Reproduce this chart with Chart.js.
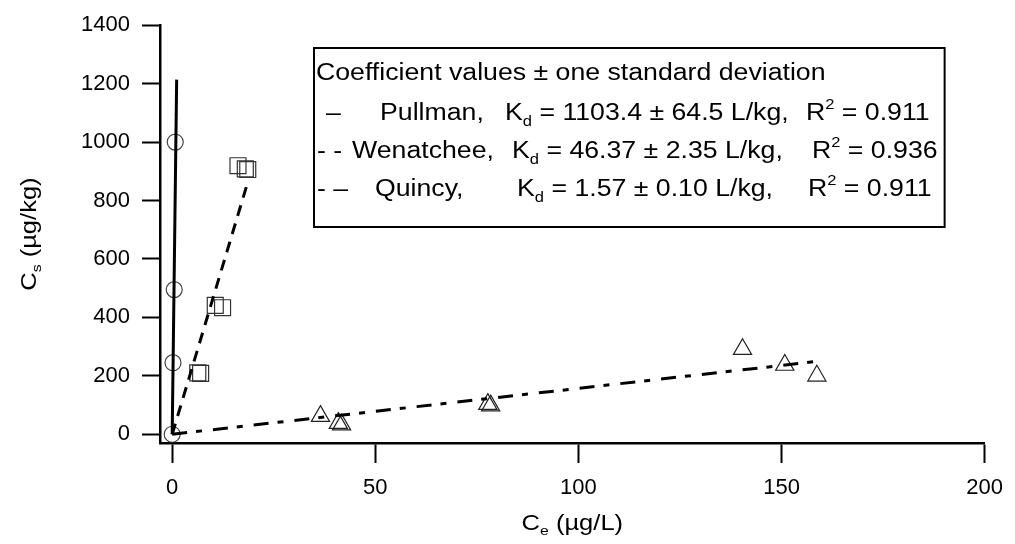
<!DOCTYPE html>
<html>
<head>
<meta charset="utf-8">
<script src="https://cdn.jsdelivr.net/npm/chart.js@4"></script>
<style>
  html, body { margin: 0; padding: 0; background: #fff; }
  canvas { display: block; }
</style>
</head>
<body>
<canvas id="chart" width="1015" height="544"></canvas>
<script>
const xTicks = [0, 50, 100, 150, 200];
const yTicks = [0, 200, 400, 600, 800, 1000, 1200, 1400];

// measured points, Ce (ug/L) vs Cs (ug/kg)
const pullmanX = [0, 0.2, 0.5, 0.75];
const pullmanY = [0, 245, 495, 1000];
const wenatcheeX = [6.3, 7.0, 10.6, 12.4, 16.2, 18.0, 18.6];
const wenatcheeY = [210, 208, 441, 433, 919, 908, 906];
const quincyX = [36.5, 40.9, 41.7, 77.7, 78.4, 140.4, 150.8, 158.7];
const quincyY = [62, 38, 33, 103, 98, 291, 237, 200];

// linear fits Cs = Kd * Ce, drawn from 0 up to fitEnd
const kd = [1103.4, 46.37, 1.57];
const fitEnd = [1.1, 18.5, 158.5];

const FONT = '"Liberation Sans", Arial, sans-serif';
const STRETCH = 1.16;

const pts = (xs, ys) => xs.map((x, i) => ({ x: x, y: ys[i] }));
const fit = i => [{ x: 0, y: 0 }, { x: fitEnd[i], y: kd[i] * fitEnd[i] }];

// text with sub/superscripts: parts are [text, 'n' | 'sub' | 'sup']
function richWidth(ctx, parts, size) {
  let w = 0;
  parts.forEach(([t, m]) => {
    ctx.font = (m === 'n' ? size : size * 0.62) + 'px ' + FONT;
    w += ctx.measureText(t).width;
  });
  return w * STRETCH;
}

function richText(ctx, parts, x, y, size) {
  ctx.save();
  ctx.translate(x, y);
  ctx.scale(STRETCH, 1);
  ctx.fillStyle = '#000';
  ctx.textBaseline = 'alphabetic';
  let cx = 0;
  parts.forEach(([t, m]) => {
    const s = m === 'n' ? size : size * 0.62;
    const dy = m === 'sub' ? size * 0.24 : m === 'sup' ? -size * 0.5 : 0;
    ctx.font = s + 'px ' + FONT;
    ctx.fillText(t, cx, dy);
    cx += ctx.measureText(t).width;
  });
  ctx.restore();
  return x + cx * STRETCH;
}

const legendRows = [
  [80, [[316, [['Coefficient values ± one standard deviation', 'n']]]]],
  [120, [[326, [['–', 'n']]], [380, [['Pullman,', 'n']]],
         [505, [['K', 'n'], ['d', 'sub'], [' = 1103.4 ± 64.5 L/kg,', 'n']]],
         [806, [['R', 'n'], ['2', 'sup'], [' = 0.911', 'n']]]]],
  [158, [[317, [['- -', 'n']]], [352, [['Wenatchee,', 'n']]],
         [512, [['K', 'n'], ['d', 'sub'], [' = 46.37 ± 2.35 L/kg,', 'n']]],
         [812, [['R', 'n'], ['2', 'sup'], [' = 0.936', 'n']]]]],
  [196, [[317, [['- –', 'n']]], [375, [['Quincy,', 'n']]],
         [517, [['K', 'n'], ['d', 'sub'], [' = 1.57 ± 0.10 L/kg,', 'n']]],
         [808, [['R', 'n'], ['2', 'sup'], [' = 0.911', 'n']]]]]
];

const annotate = {
  id: 'annotate',
  afterDraw(chart) {
    const ctx = chart.ctx;
    // legend box
    let right = 0;
    legendRows.forEach(([y, segs]) => {
      segs.forEach(([x, parts]) => {
        right = Math.max(right, richText(ctx, parts, x, y, 23));
      });
    });
    ctx.save();
    ctx.strokeStyle = '#000';
    ctx.lineWidth = 2;
    ctx.strokeRect(314, 48, right + 7 - 314, 179);
    ctx.restore();

    // axis titles
    const xa = chart.scales.x, ya = chart.scales.y;
    const xt = [['C', 'n'], ['e', 'sub'], [' (µg/L)', 'n']];
    richText(ctx, xt, (xa.left + xa.right) / 2 - richWidth(ctx, xt, 22) / 2, 530, 22);
    const yt = [['C', 'n'], ['s', 'sub'], [' (µg/kg)', 'n']];
    ctx.save();
    ctx.translate(36, (ya.top + ya.bottom) / 2);
    ctx.rotate(-Math.PI / 2);
    richText(ctx, yt, -richWidth(ctx, yt, 22) / 2, 0, 22);
    ctx.restore();
  }
};

new Chart(document.getElementById('chart'), {
  type: 'scatter',
  data: {
    datasets: [{
      label: 'Pullman fit',
      data: fit(0),
      showLine: true,
      borderColor: '#000',
      borderWidth: 3,
      pointRadius: 0
    }, {
      label: 'Wenatchee fit',
      data: fit(1),
      showLine: true,
      borderColor: '#000',
      borderWidth: 3,
      borderDash: [11, 8],
      pointRadius: 0
    }, {
      label: 'Quincy fit',
      data: fit(2),
      showLine: true,
      borderColor: '#000',
      borderWidth: 3,
      borderDash: [15, 9, 6, 11],
      pointRadius: 0
    }, {
      label: 'Pullman',
      data: pts(pullmanX, pullmanY),
      pointStyle: 'circle',
      pointRadius: 8,
      borderColor: '#444',
      borderWidth: 1.2,
      backgroundColor: 'rgba(0,0,0,0)'
    }, {
      label: 'Wenatchee',
      data: pts(wenatcheeX, wenatcheeY),
      pointStyle: 'rect',
      pointRadius: 11.3,
      borderColor: '#333',
      borderWidth: 1.2,
      backgroundColor: 'rgba(0,0,0,0)'
    }, {
      label: 'Quincy',
      data: pts(quincyX, quincyY),
      pointStyle: 'triangle',
      pointRadius: 10.5,
      borderColor: '#222',
      borderWidth: 1.2,
      backgroundColor: 'rgba(0,0,0,0)'
    }]
  },
  options: {
    responsive: false,
    animation: false,
    layout: { padding: { top: 25, right: 23, left: 0, bottom: 0 } },
    plugins: {
      legend: { display: false },
      tooltip: { enabled: false }
    },
    scales: {
      x: {
        type: 'linear',
        min: -3,
        max: 200,
        afterBuildTicks: s => { s.ticks = xTicks.map(v => ({ value: v })); },
        afterFit: s => { s.height = 101; },
        grid: { drawOnChartArea: false, tickLength: 20, tickWidth: 2, tickColor: '#000' },
        border: { display: true, color: '#000', width: 2.5 },
        ticks: { color: '#000', padding: 12, maxRotation: 0, callback: v => String(v), font: { family: FONT, size: 22 } }
      },
      y: {
        type: 'linear',
        min: -30,
        max: 1400,
        afterBuildTicks: s => { s.ticks = yTicks.map(v => ({ value: v })); },
        afterFit: s => { s.width = 160; },
        grid: { drawOnChartArea: false, tickLength: 18, tickWidth: 2, tickColor: '#000' },
        border: { display: true, color: '#000', width: 2.5 },
        ticks: { color: '#000', padding: 12, callback: v => String(v), font: { family: FONT, size: 22 } }
      }
    }
  },
  plugins: [annotate]
});
</script>
</body>
</html>
